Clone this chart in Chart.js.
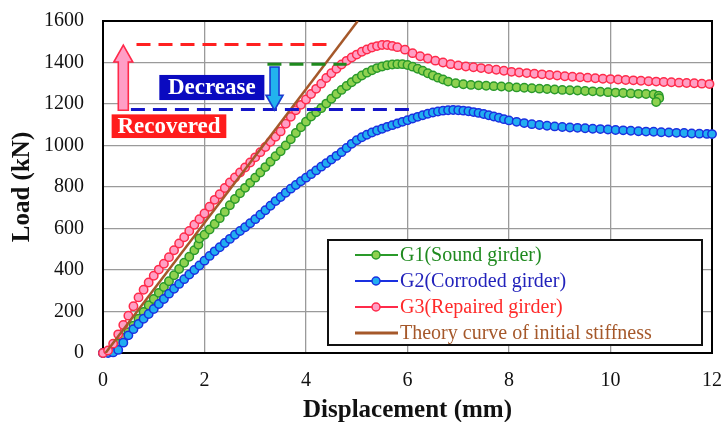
<!DOCTYPE html>
<html><head><meta charset="utf-8">
<script src="https://cdn.jsdelivr.net/npm/chart.js@4.4.0/dist/chart.umd.min.js"></script>
<style>html,body{margin:0;padding:0;background:#fff}#wrap{width:724px;height:422px}</style>
</head><body><div id="wrap"><canvas id="c" width="724" height="422"></canvas></div>
<script>
// ---- data (displacement mm, load kN) ----
const g1 = [[0,0],[0.1,5],[0.2,18],[0.3,45],[0.4,72],[0.5,100],[0.6,132],[0.7,165],[0.8,198],[0.9,230],[1.0,260],[1.1,290],[1.2,318],[1.3,346],[1.4,375],[1.5,405],[1.6,435],[1.7,464],[1.8,495],[1.88,522],[1.9,552],[2.0,570],[2.1,595],[2.2,622],[2.3,650],[2.4,680],[2.5,712],[2.6,742],[2.7,770],[2.8,796],[2.9,820],[3.0,845],[3.1,870],[3.2,896],[3.3,922],[3.4,948],[3.5,972],[3.6,1000],[3.7,1030],[3.8,1060],[3.9,1088],[4.0,1115],[4.1,1140],[4.2,1160],[4.3,1180],[4.4,1202],[4.5,1225],[4.6,1248],[4.7,1268],[4.8,1287],[4.9,1305],[5.0,1322],[5.1,1337],[5.2,1351],[5.3,1363],[5.4,1373],[5.5,1381],[5.6,1387],[5.7,1390],[5.8,1392],[5.9,1392],[6.0,1388],[6.1,1380],[6.2,1370],[6.3,1360],[6.4,1348],[6.5,1337],[6.6,1327],[6.7,1318],[6.8,1308],[6.95,1300],[7.1,1295],[7.25,1292],[7.4,1290],[7.55,1288],[7.7,1286],[7.85,1284],[8.0,1282],[8.15,1280],[8.3,1278],[8.45,1276],[8.6,1274],[8.75,1272],[8.9,1270],[9.05,1268],[9.2,1266],[9.35,1265],[9.5,1263],[9.65,1261],[9.8,1259],[9.95,1257],[10.1,1255],[10.25,1253],[10.4,1251],[10.55,1249],[10.7,1248],[10.85,1246],[10.95,1240],[10.96,1228],[10.9,1210]];
const g2 = [[0,0],[0.1,0],[0.2,3],[0.3,15],[0.4,50],[0.5,85],[0.6,115],[0.7,140],[0.8,165],[0.9,188],[1.0,212],[1.1,236],[1.2,260],[1.3,286],[1.4,310],[1.5,333],[1.6,356],[1.7,378],[1.8,400],[1.9,422],[2.0,445],[2.1,468],[2.2,490],[2.3,510],[2.4,530],[2.5,550],[2.6,570],[2.7,588],[2.8,606],[2.9,625],[3.0,645],[3.1,666],[3.2,688],[3.3,710],[3.4,732],[3.5,752],[3.6,772],[3.7,792],[3.8,810],[3.9,828],[4.0,845],[4.1,862],[4.2,880],[4.3,898],[4.4,915],[4.5,932],[4.6,950],[4.7,968],[4.8,988],[4.9,1008],[5.0,1025],[5.1,1040],[5.2,1052],[5.3,1063],[5.4,1072],[5.5,1081],[5.6,1090],[5.7,1098],[5.8,1106],[5.9,1114],[6.0,1122],[6.1,1130],[6.2,1138],[6.3,1146],[6.4,1153],[6.5,1159],[6.6,1164],[6.7,1168],[6.8,1170],[6.9,1171],[7.0,1170],[7.1,1168],[7.2,1165],[7.3,1161],[7.4,1157],[7.5,1152],[7.6,1146],[7.7,1140],[7.8,1134],[7.9,1127],[8.0,1121],[8.15,1114],[8.3,1108],[8.45,1103],[8.6,1099],[8.75,1095],[8.9,1092],[9.05,1089],[9.2,1087],[9.35,1085],[9.5,1083],[9.65,1081],[9.8,1079],[9.95,1077],[10.1,1075],[10.25,1073],[10.4,1071],[10.55,1069],[10.7,1067],[10.85,1066],[11.0,1064],[11.15,1063],[11.3,1061],[11.45,1060],[11.6,1058],[11.75,1057],[11.9,1056],[12.0,1055]];
const g3 = [[0,0],[0.1,12],[0.2,45],[0.3,90],[0.4,135],[0.5,180],[0.6,225],[0.7,268],[0.8,305],[0.9,340],[1.0,372],[1.1,402],[1.2,430],[1.3,462],[1.4,495],[1.5,528],[1.6,558],[1.7,588],[1.8,618],[1.9,645],[2.0,672],[2.1,705],[2.2,738],[2.3,765],[2.4,795],[2.5,822],[2.6,846],[2.7,870],[2.8,894],[2.9,918],[3.0,943],[3.1,968],[3.2,993],[3.3,1018],[3.4,1042],[3.5,1068],[3.6,1105],[3.7,1138],[3.8,1170],[3.9,1196],[4.0,1222],[4.1,1248],[4.2,1273],[4.3,1298],[4.4,1325],[4.5,1348],[4.6,1370],[4.7,1390],[4.8,1408],[4.9,1424],[5.0,1438],[5.1,1452],[5.2,1463],[5.3,1472],[5.4,1479],[5.5,1484],[5.6,1484],[5.7,1480],[5.8,1474],[5.95,1462],[6.1,1445],[6.25,1430],[6.4,1419],[6.55,1409],[6.7,1400],[6.85,1392],[7.0,1386],[7.15,1381],[7.3,1377],[7.45,1373],[7.6,1369],[7.75,1365],[7.9,1360],[8.05,1355],[8.2,1352],[8.35,1349],[8.5,1346],[8.65,1343],[8.8,1340],[8.95,1337],[9.1,1334],[9.25,1331],[9.4,1329],[9.55,1327],[9.7,1324],[9.85,1322],[10.0,1320],[10.15,1318],[10.3,1316],[10.45,1314],[10.6,1312],[10.75,1310],[10.9,1308],[11.05,1306],[11.2,1305],[11.35,1303],[11.5,1301],[11.65,1300],[11.8,1298],[11.95,1296]];
const theory = [[0.05,0],[5.02,1600]];
const recoveredLevel = [[0.66,1487],[4.53,1487]];
const soundLevel = [[3.24,1391],[4.80,1391]];
const corrodedLevel = [[0.55,1174],[6.17,1174]];
const seriesNames = ['G1(Sound girder)','G2(Corroded girder)','G3(Repaired girder)','Theory curve of initial stiffness'];
const xTicks = [0,2,4,6,8,10,12];
const yTicks = [0,200,400,600,800,1000,1200,1400,1600];
const labelTexts = ['Recovered','Decrease'];

// ---- styles ----
const SERIF = "'Liberation Serif','Times New Roman',serif";
const COL = {
  g1: {fill:'#8fd14f', line:'#2a9a2a', text:'#1f8a1f'},
  g2: {fill:'#22aef0', line:'#1a30e0', text:'#2222bb'},
  g3: {fill:'#ff9fc4', line:'#ff2a4a', text:'#ff2a2a'},
  th: {line:'#a5582a', text:'#a5582a'}
};
const toXY = arr => arr.map(p => ({x:p[0], y:p[1]}));

function series(label, arr, c, order){
  return {label, data:toXY(arr), showLine:true, borderColor:c.line, backgroundColor:c.fill,
    borderWidth:1.5, pointRadius:4.2, pointBorderWidth:1.5, pointBackgroundColor:c.fill,
    pointBorderColor:c.line, pointHoverRadius:4.2, clip:false, order};
}
function dash(arr, color){
  return {label:'', data:toXY(arr), showLine:true, borderColor:color, borderWidth:3,
    borderDash:[14,8], pointRadius:0, pointHoverRadius:0, order:-1, clip:false};
}

const datasets = [
  series(seriesNames[0], g1, COL.g1, 3),
  series(seriesNames[1], g2, COL.g2, 2),
  series(seriesNames[2], g3, COL.g3, 1),
  {label:seriesNames[3], data:toXY(theory), showLine:true, borderColor:COL.th.line, borderWidth:2.5,
    pointRadius:0, pointHoverRadius:0, order:0},
  dash(recoveredLevel, '#ff2020'),
  dash(soundLevel, '#1e8a1e'),
  dash(corrodedLevel, '#1515c8')
];

// annotation layout (data coordinates)
const annot = {
  recovered:{x0:0.17, x1:2.43, y0:1036, y1:1150, fill:'#ff1c1c'},
  decrease:{x0:1.11, x1:3.18, y0:1219, y1:1340, fill:'#0a0ac0'},
  up:{x:0.40, from:1170, to:1484, fill:'#ff9ec6', stroke:'#ff2a4a'},
  down:{x:3.38, from:1378, to:1170, fill:'#22b2ee', stroke:'#1a3ad0'}
};

function drawArrow(ctx, cx, yA, yB, shaftW, headW, headL, fill, stroke){
  const dir = yB > yA ? 1 : -1;
  const yh = yB - dir*headL;
  ctx.beginPath();
  ctx.moveTo(cx - shaftW/2, yA);
  ctx.lineTo(cx - shaftW/2, yh);
  ctx.lineTo(cx - headW/2, yh);
  ctx.lineTo(cx, yB);
  ctx.lineTo(cx + headW/2, yh);
  ctx.lineTo(cx + shaftW/2, yh);
  ctx.lineTo(cx + shaftW/2, yA);
  ctx.closePath();
  ctx.fillStyle = fill; ctx.fill();
  ctx.lineWidth = 1.6; ctx.strokeStyle = stroke; ctx.stroke();
}

const overlay = {
  id:'overlay',
  beforeDatasetsDraw(chart){
    const {ctx, chartArea:a} = chart;
    ctx.save(); ctx.strokeStyle='#000'; ctx.lineWidth=2;
    ctx.strokeRect(a.left, a.top, a.right-a.left, a.bottom-a.top);
    ctx.restore();
  },
  afterDatasetsDraw(chart){
    const {ctx, chartArea:a, scales:{x, y}} = chart;
    ctx.save();
    drawArrow(ctx, x.getPixelForValue(annot.up.x), y.getPixelForValue(annot.up.from), y.getPixelForValue(annot.up.to), 10, 19, 17, annot.up.fill, annot.up.stroke);
    drawArrow(ctx, x.getPixelForValue(annot.down.x), y.getPixelForValue(annot.down.from), y.getPixelForValue(annot.down.to), 9, 17, 15, annot.down.fill, annot.down.stroke);
    [[annot.recovered, labelTexts[0]], [annot.decrease, labelTexts[1]]].forEach(([b, t]) => {
      const L = x.getPixelForValue(b.x0), R = x.getPixelForValue(b.x1);
      const T = y.getPixelForValue(b.y1), B = y.getPixelForValue(b.y0);
      ctx.fillStyle = b.fill; ctx.fillRect(L, T, R-L, B-T);
      ctx.fillStyle = '#fff'; ctx.font = 'bold 23px ' + SERIF;
      ctx.textAlign = 'center'; ctx.textBaseline = 'middle';
      ctx.fillText(t, (L+R)/2, (T+B)/2 + 1);
    });
    // legend
    const bl = a.right - 384, br = a.right - 10, bt = a.bottom - 113, bb = a.bottom - 8;
    ctx.fillStyle = '#fff'; ctx.fillRect(bl, bt, br-bl, bb-bt);
    ctx.strokeStyle = '#111'; ctx.lineWidth = 2; ctx.strokeRect(bl, bt, br-bl, bb-bt);
    const rows = [COL.g1, COL.g2, COL.g3, COL.th];
    rows.forEach((c, i) => {
      const yy = a.bottom - 98 + i*26;
      ctx.beginPath(); ctx.moveTo(bl+27, yy); ctx.lineTo(bl+70, yy);
      ctx.strokeStyle = c.line; ctx.lineWidth = i === 3 ? 3 : 2; ctx.stroke();
      if (c.fill) {
        ctx.beginPath(); ctx.arc(bl+48, yy, 4, 0, Math.PI*2);
        ctx.fillStyle = c.fill; ctx.fill(); ctx.lineWidth = 1.5; ctx.strokeStyle = c.line; ctx.stroke();
      }
      ctx.fillStyle = c.text; ctx.font = '20px ' + SERIF;
      ctx.textAlign = 'left'; ctx.textBaseline = 'middle';
      ctx.fillText(seriesNames[i], bl+72, yy + 1);
    });
    ctx.restore();
  }
};

function noPad(s){ s.paddingTop = 0; s.paddingBottom = 0; s.paddingLeft = 0; s.paddingRight = 0; }

new Chart(document.getElementById('c'), {
  type:'scatter',
  data:{datasets},
  plugins:[overlay],
  options:{
    responsive:false, animation:false, devicePixelRatio:1,
    layout:{padding:{top:21, right:12, left:0, bottom:0}},
    plugins:{legend:{display:false}, tooltip:{enabled:false}},
    scales:{
      x:{type:'linear', min:0, max:12,
        afterBuildTicks(s){ s.ticks = xTicks.map(v => ({value:v})); },
        afterFit(s){ s.height = 69; noPad(s); },
        grid:{color:'#9a9a9a', lineWidth:1.3, drawTicks:false},
        border:{color:'#000', width:2},
        ticks:{padding:16, color:'#111', font:{family:SERIF, size:20}, callback:v => String(v)},
        title:{display:true, text:'Displacement (mm)', color:'#111', padding:{top:0,bottom:-1},
          font:{family:SERIF, size:25, weight:'bold', lineHeight:1}}
      },
      y:{type:'linear', min:0, max:1600,
        afterBuildTicks(s){ s.ticks = yTicks.map(v => ({value:v})); },
        afterFit(s){ s.width = 103; noPad(s); },
        grid:{color:'#9a9a9a', lineWidth:1.3, drawTicks:false},
        border:{color:'#000', width:2},
        ticks:{padding:19, color:'#111', font:{family:SERIF, size:20}, callback:v => String(v)},
        title:{display:true, text:'Load (kN)', color:'#111', padding:{top:10,bottom:0},
          font:{family:SERIF, size:25, weight:'bold', lineHeight:1}}
      }
    }
  }
});
</script></body></html>
